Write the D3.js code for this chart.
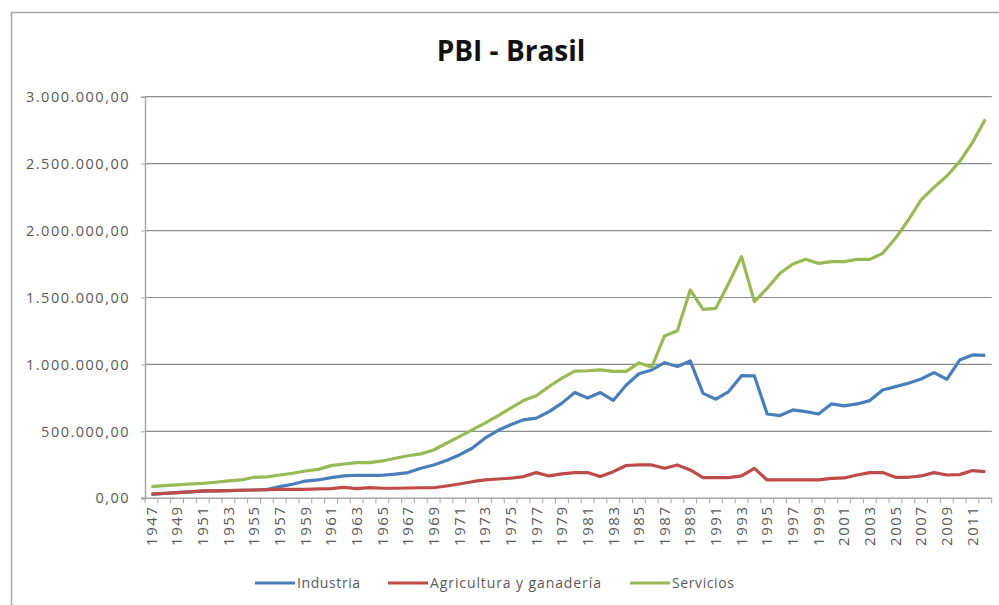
<!DOCTYPE html>
<html lang="es">
<head>
	<meta charset="UTF-8">
	<title>PBI - Brasil</title>
	<script src="https://cdnjs.cloudflare.com/ajax/libs/d3/7.8.5/d3.min.js"></script>
	<style>
		body { margin: 0; background: #fff; }
		text { font-family: "Open Sans", sans-serif; fill: #595959; }
		.title { font-weight: bold; fill: #111; }
	</style>
</head>
<body>
	<svg id="svg"></svg>
	<script>
		// datos
		var years = d3.range(1947, 2013);
		var industria = [30, 36, 42, 48, 53, 56, 57, 60, 62, 65, 87, 105, 129, 137, 154, 167, 172, 172, 172, 180,
			192, 224, 249, 282, 324, 374, 449, 506, 549, 586, 599, 648, 711, 790, 749, 790, 731, 845, 930, 959,
			1013, 984, 1026, 784, 740, 797, 916, 914, 630, 618, 660, 647, 630, 705, 690, 705, 730, 809, 834, 859,
			891, 939, 889, 1033, 1071, 1068];
		var agricultura = [32, 37, 42, 48, 55, 56, 57, 60, 62, 65, 67, 67, 67, 70, 72, 82, 72, 80, 75, 75,
			77, 79, 79, 92, 107, 124, 137, 144, 150, 162, 192, 167, 182, 192, 192, 162, 199, 245, 249, 249,
			224, 249, 212, 154, 154, 154, 167, 224, 137, 137, 137, 137, 137, 149, 152, 174, 192, 192, 157, 157,
			167, 192, 174, 177, 207, 199];
		var servicios = [87, 95, 100, 107, 112, 120, 130, 137, 157, 160, 174, 187, 204, 216, 244, 256, 266, 266, 279, 299,
			318, 332, 361, 411, 461, 511, 561, 616, 673, 730, 766, 835, 898, 950, 953, 960, 948, 948, 1012, 979,
			1213, 1252, 1556, 1412, 1419, 1606, 1805, 1469, 1569, 1681, 1750, 1785, 1755, 1768, 1768, 1785, 1785, 1830, 1942, 2079,
			2229, 2323, 2408, 2515, 2657, 2831];
		var seriesNames = ["Industria", "Agricultura y ganadería", "Servicios"];
		var seriesColors = ["#4a7ebb", "#be4b48", "#98b954"];
		var yTicks = [0, 500000, 1000000, 1500000, 2000000, 2500000, 3000000];

		(function() {
			var w = 999,
				h = 605,
				mLeft = 145,
				mRight = 991.7,
				mTop = 96.7,
				mBottom = 498.3;

			var svg = d3.select("#svg").attr("width", w).attr("height", h);
			var es = d3.formatLocale({ decimal: ",", thousands: ".", grouping: [3], currency: ["", ""] });
			var fmt = es.format(",.2f");

			var x = d3.scaleBand().domain(years).range([mLeft, mRight]).padding(0);
			var y = d3.scaleLinear().domain([0, 3000000]).range([mBottom, mTop]);

			// marco
			svg.append("path")
				.attr("d", "M11.5," + h + "V12.5H" + w)
				.attr("fill", "none")
				.attr("stroke", "#a6a6a6")
				.attr("stroke-width", 1.5);

			svg.append("text").attr("class", "title")
				.attr("x", 511).attr("y", 61)
				.attr("text-anchor", "middle")
				.style("font-size", "28px")
				.text("PBI - Brasil");

			// rejilla
			svg.append("g").selectAll("line")
				.data(yTicks.slice(1))
				.enter().append("line")
				.attr("x1", mLeft).attr("x2", mRight)
				.attr("y1", function(d) { return y(d); })
				.attr("y2", function(d) { return y(d); })
				.attr("stroke", "#8c8c8c")
				.attr("stroke-width", 1.2);

			// eje Y
			var yAxis = svg.append("g")
				.attr("transform", "translate(" + mLeft + ",0)")
				.call(d3.axisLeft(y).tickValues(yTicks).tickSize(4).tickPadding(11).tickFormat(fmt));
			yAxis.select(".domain").attr("stroke", "#a6a6a6").attr("stroke-width", 1.5);
			yAxis.selectAll(".tick line").attr("stroke", "#a6a6a6");
			yAxis.selectAll(".tick text")
				.style("font-size", "14.5px")
				.style("letter-spacing", "1.5px")
				.attr("fill", "#4d4d4d");

			// eje X (marcas entre categorías)
			var xAxis = svg.append("g");
			xAxis.append("line")
				.attr("x1", mLeft - 4).attr("x2", mRight)
				.attr("y1", mBottom).attr("y2", mBottom)
				.attr("stroke", "#a6a6a6").attr("stroke-width", 1.5);
			xAxis.selectAll(".tk")
				.data(years.concat([2013]))
				.enter().append("line")
				.attr("x1", function(d) { return d === 2013 ? mRight : x(d); })
				.attr("x2", function(d) { return d === 2013 ? mRight : x(d); })
				.attr("y1", mBottom).attr("y2", mBottom + 5)
				.attr("stroke", "#a6a6a6");
			xAxis.selectAll(".lbl")
				.data(years.filter(function(d) { return (d - 1947) % 2 === 0; }))
				.enter().append("text")
				.attr("transform", function(d) {
					return "translate(" + (x(d) + x.bandwidth() / 2) + "," + (mBottom + 7) + ") rotate(-90)";
				})
				.attr("text-anchor", "end")
				.attr("dy", "0.35em")
				.attr("fill", "#4d4d4d")
				.style("font-size", "15px")
				.style("letter-spacing", "1.6px")
				.text(function(d) { return d; });

			// líneas
			var line = d3.line()
				.x(function(d, i) { return x(years[i]) + x.bandwidth() / 2; })
				.y(function(d) { return y(d * 1000); });

			[industria, agricultura, servicios].forEach(function(s, i) {
				svg.append("path")
					.datum(s)
					.attr("d", line)
					.attr("fill", "none")
					.attr("stroke", seriesColors[i])
					.attr("stroke-width", 3.2)
					.attr("stroke-linejoin", "round");
			});

			// leyenda
			var legX = [255, 388, 630];
			var leg = svg.append("g").selectAll("g")
				.data(seriesNames)
				.enter().append("g")
				.attr("transform", function(d, i) { return "translate(" + legX[i] + ",583)"; });
			leg.append("line")
				.attr("x1", 0).attr("x2", 40)
				.attr("stroke", function(d, i) { return seriesColors[i]; })
				.attr("stroke-width", 3);
			leg.append("text")
				.attr("x", 42).attr("dy", "0.35em")
				.attr("fill", "#4d4d4d")
				.style("font-size", "14px")
				.style("letter-spacing", function(d, i) { return i === 1 ? "0.9px" : "0.6px"; })
				.text(function(d) { return d; });
		})();
	</script>
</body>
</html>
